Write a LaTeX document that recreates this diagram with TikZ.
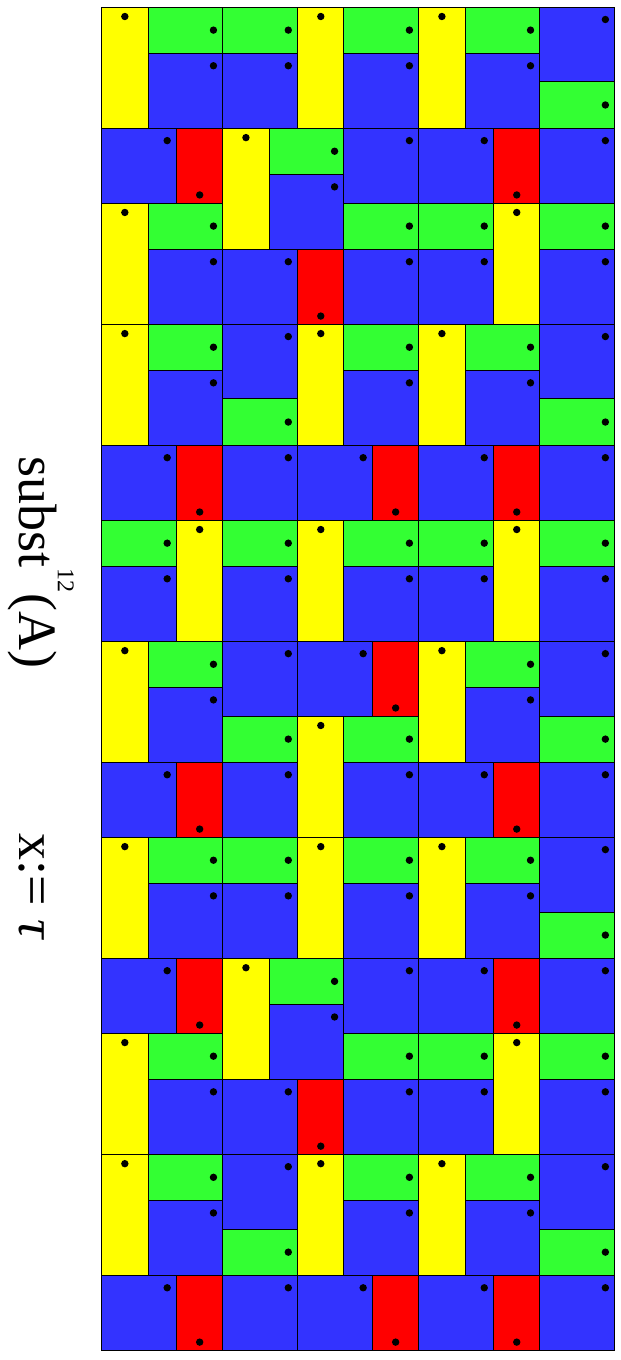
\documentclass[tikz,border=0pt]{standalone}
\usepackage{fontspec}
\setmainfont{Liberation Serif}
\definecolor{cY}{RGB}{255,255,0}
\definecolor{cG}{RGB}{51,255,51}
\definecolor{cB}{RGB}{51,51,255}
\definecolor{cR}{RGB}{255,0,0}
\tikzset{
  tileY/.style={fill=cY,draw=black,line width=0.9pt},
  tileG/.style={fill=cG,draw=black,line width=0.9pt},
  tileB/.style={fill=cB,draw=black,line width=0.9pt},
  tileR/.style={fill=cR,draw=black,line width=0.9pt},
  dotc/.style={fill=black},
  lbl/.style={inner sep=0pt,font=\fontsize{54}{54}\selectfont}
}
\newcommand{\tY}[2]{\filldraw[tileY] (#1,#2) rectangle ++(0.618034,1.618034);
  \fill[dotc] ({#1+0.309017},{#2+0.127}) circle (3.7pt);}
\newcommand{\tG}[2]{\filldraw[tileG] (#1,#2) rectangle ++(1,0.618034);
  \fill[dotc] ({#1+0.875},{#2+0.309017}) circle (3.7pt);}
\newcommand{\tB}[2]{\filldraw[tileB] (#1,#2) rectangle ++(1,1);
  \fill[dotc] ({#1+0.875},{#2+0.167}) circle (3.7pt);}
\newcommand{\tR}[2]{\filldraw[tileR] (#1,#2) rectangle ++(0.618034,1);
  \fill[dotc] ({#1+0.309017},{#2+0.893}) circle (3.7pt);}
\newcommand{\topsec}{%
 \tY{0}{0}
 \tG{0.618034}{0} \tB{0.618034}{0.618034}
 \tG{1.618034}{0} \tB{1.618034}{0.618034}
 \tY{2.618034}{0}
 \tG{3.236068}{0} \tB{3.236068}{0.618034}
 \tY{4.236068}{0}
 \tG{4.854102}{0} \tB{4.854102}{0.618034}
 \tB{5.854102}{0} \tG{5.854102}{1}
 \tB{0}{1.618034} \tR{1}{1.618034}
 \tY{1.618034}{1.618034} \tG{2.236068}{1.618034} \tB{2.236068}{2.236068}
 \tB{3.236068}{1.618034}
 \tB{4.236068}{1.618034} \tR{5.236068}{1.618034}
 \tB{5.854102}{1.618034}
 \tY{0}{2.618034} \tG{0.618034}{2.618034} \tB{0.618034}{3.236068}
 \tB{1.618034}{3.236068} \tR{2.618034}{3.236068}
 \tG{3.236068}{2.618034} \tB{3.236068}{3.236068}
 \tG{4.236068}{2.618034} \tB{4.236068}{3.236068}
 \tY{5.236068}{2.618034}
 \tG{5.854102}{2.618034} \tB{5.854102}{3.236068}
 \tY{0}{4.236068} \tG{0.618034}{4.236068} \tB{0.618034}{4.854102}
 \tB{1.618034}{4.236068} \tG{1.618034}{5.236068}
 \tY{2.618034}{4.236068}
 \tG{3.236068}{4.236068} \tB{3.236068}{4.854102}
 \tY{4.236068}{4.236068}
 \tG{4.854102}{4.236068} \tB{4.854102}{4.854102}
 \tB{5.854102}{4.236068} \tG{5.854102}{5.236068}
 \tB{0}{5.854102} \tR{1}{5.854102}
 \tB{1.618034}{5.854102}
 \tB{2.618034}{5.854102} \tR{3.618034}{5.854102}
 \tB{4.236068}{5.854102} \tR{5.236068}{5.854102}
 \tB{5.854102}{5.854102}
}
\begin{document}
\begin{tikzpicture}[x=74.85pt,y=-74.85pt]
\useasboundingbox (-1.3587,-0.0935) rectangle (6.9379,18.0762);
% top section
\topsec
% middle section
\tG{0}{6.854102} \tB{0}{7.472136}
\tY{1}{6.854102}
\tG{1.618034}{6.854102} \tB{1.618034}{7.472136}
\tY{2.618034}{6.854102}
\tG{3.236068}{6.854102} \tB{3.236068}{7.472136}
\tG{4.236068}{6.854102} \tB{4.236068}{7.472136}
\tY{5.236068}{6.854102}
\tG{5.854102}{6.854102} \tB{5.854102}{7.472136}
\tY{0}{8.472136} \tG{0.618034}{8.472136} \tB{0.618034}{9.090170}
\tB{1.618034}{8.472136} \tG{1.618034}{9.472136}
\tB{2.618034}{8.472136} \tR{3.618034}{8.472136}
\tY{2.618034}{9.472136} \tG{3.236068}{9.472136}
\tY{4.236068}{8.472136} \tG{4.854102}{8.472136} \tB{4.854102}{9.090170}
\tB{5.854102}{8.472136} \tG{5.854102}{9.472136}
\tB{0}{10.090170} \tR{1}{10.090170}
\tB{1.618034}{10.090170}
\tB{3.236068}{10.090170}
\tB{4.236068}{10.090170} \tR{5.236068}{10.090170}
\tB{5.854102}{10.090170}
% bottom section
\begin{scope}[shift={(0,11.090170)}]
\topsec
\end{scope}
% labels
\node[lbl,anchor=base west,rotate=-90] (title) at (-1.0915,5.9987)
  {subst\hspace{1pt}\raisebox{38pt}{\fontsize{24}{24}\selectfont 12}\hspace{1pt}(A)};
\node[lbl,anchor=base west,rotate=-90] (assign) at (-1.0915,11.0354)
  {x:= \textit{τ}};
\end{tikzpicture}
\end{document}
